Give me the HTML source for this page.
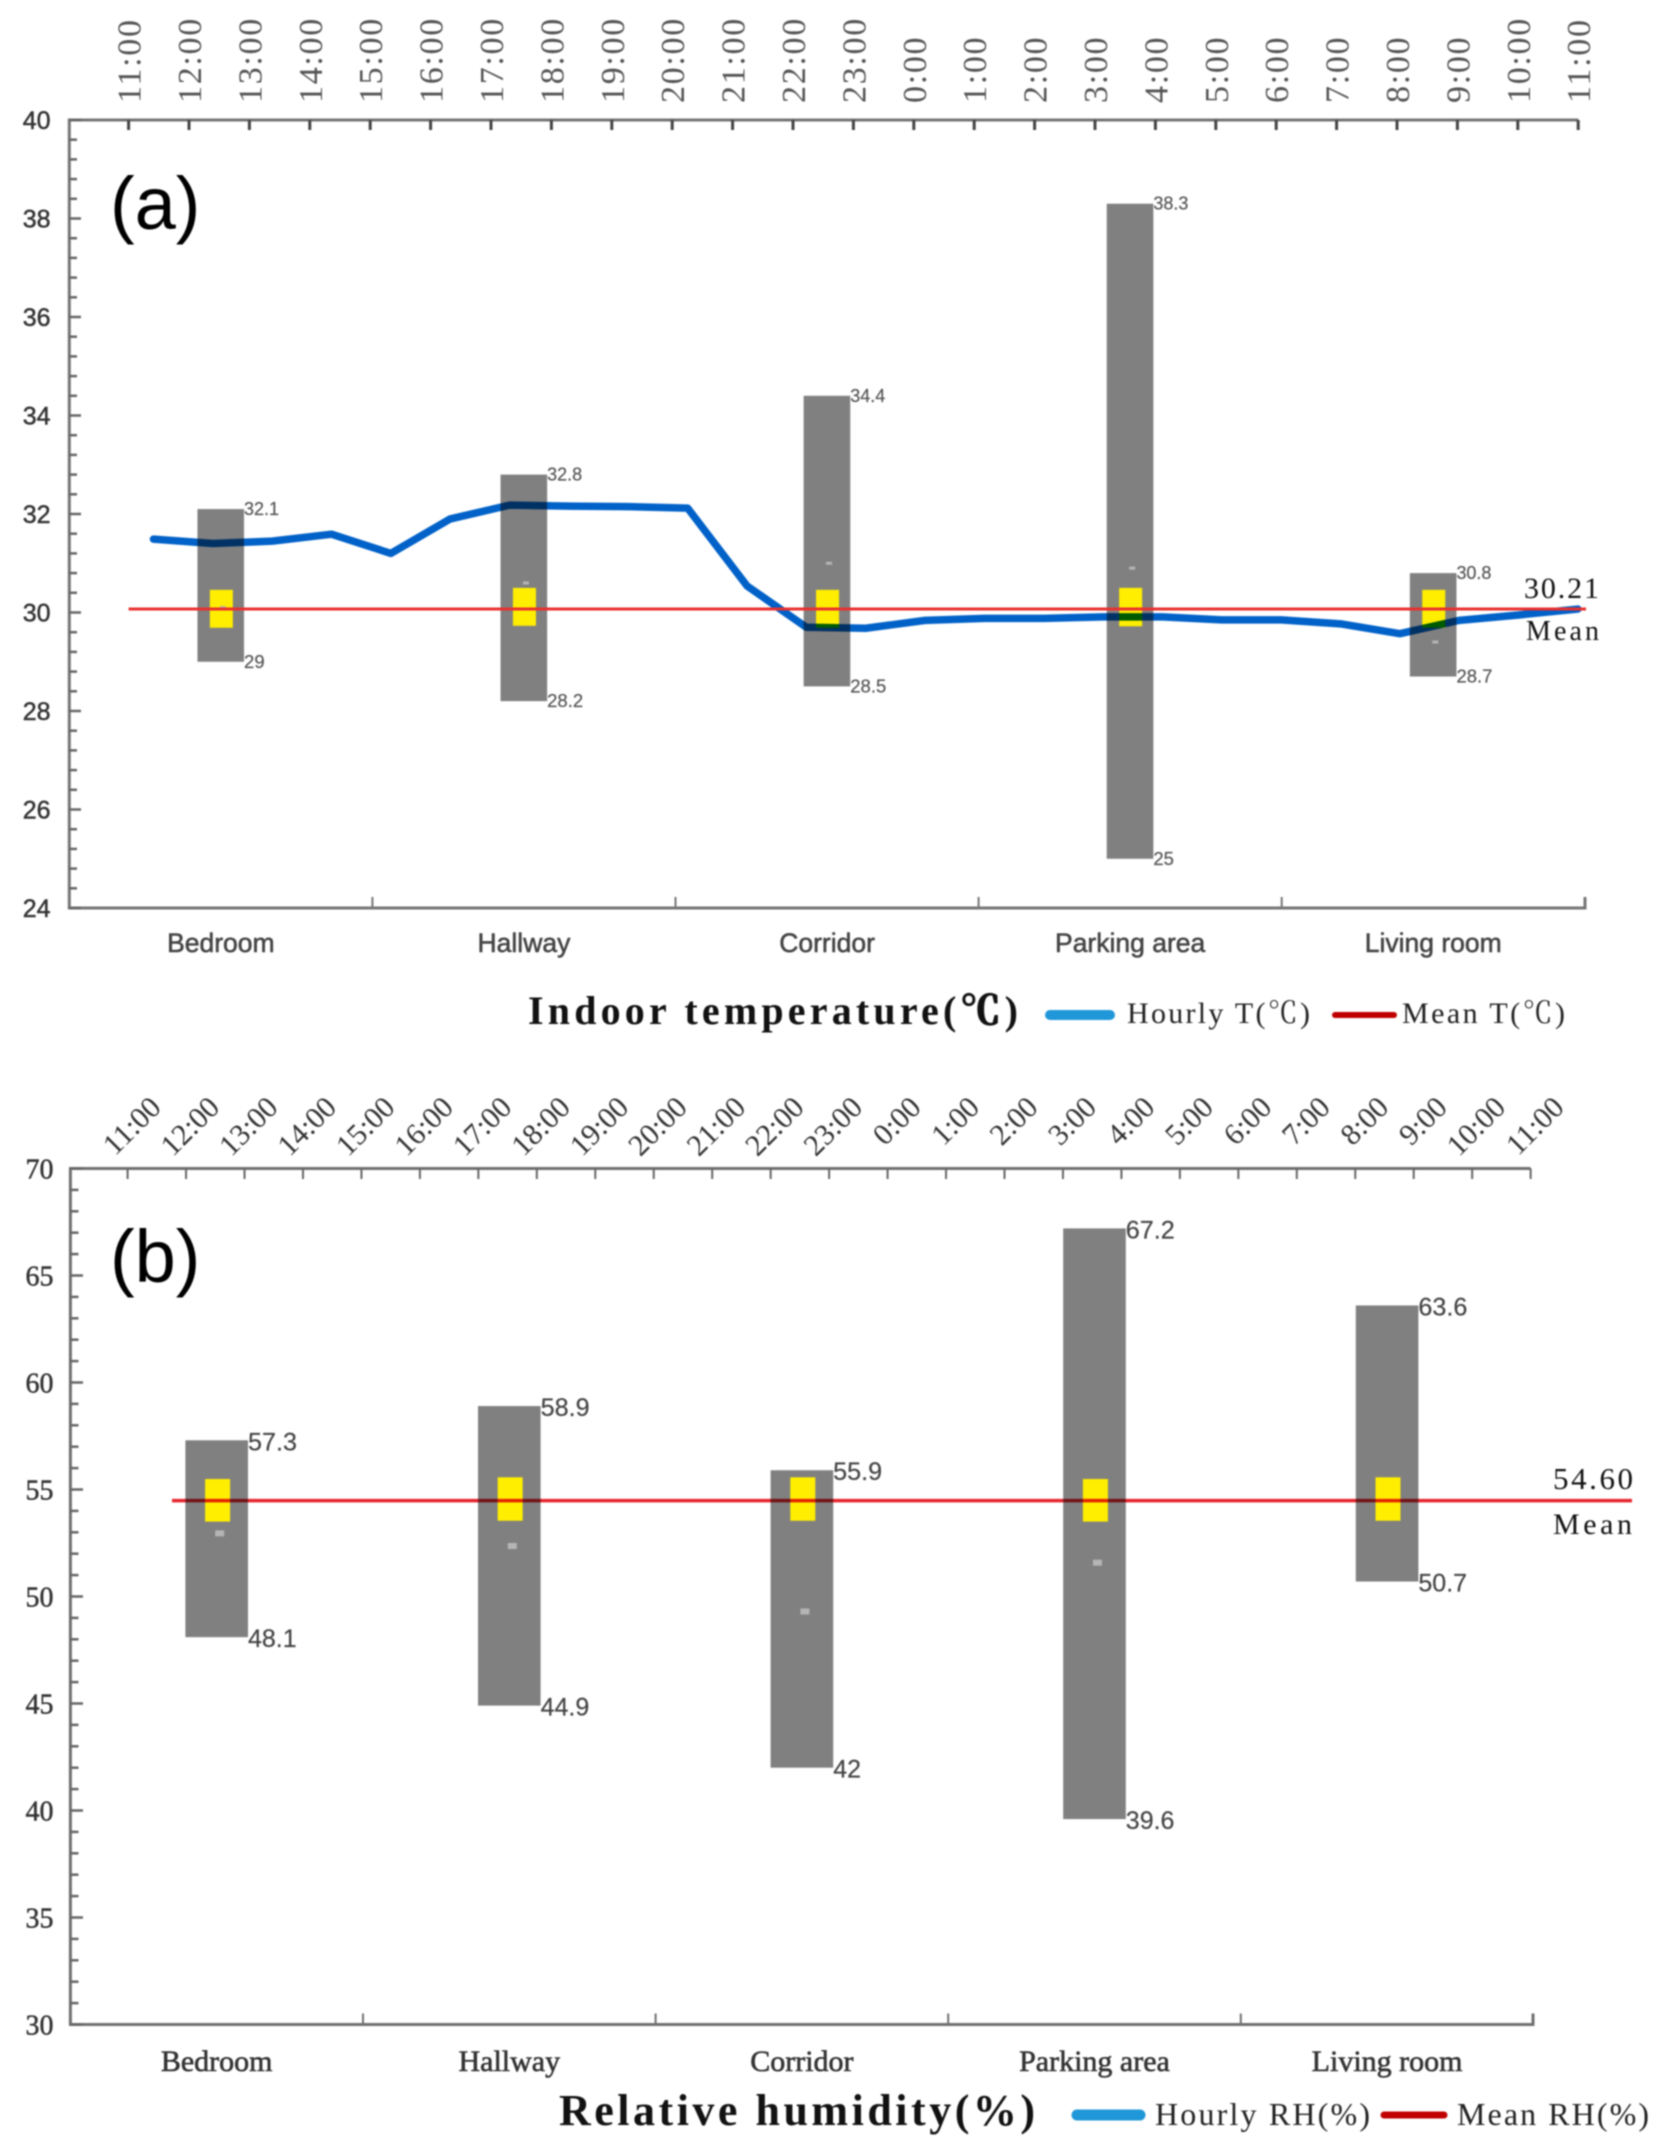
<!DOCTYPE html>
<html lang="en">
<head>
<meta charset="utf-8">
<title>Indoor temperature and relative humidity by location</title>
<style>
html,body{margin:0;padding:0;background:#fff;}
body{width:1665px;height:2152px;overflow:hidden;}
svg{display:block;filter:blur(0.7px);}
.sans{font-family:"Liberation Sans","Noto Sans CJK SC",sans-serif;}
.serif{font-family:"Liberation Serif","Noto Serif CJK SC",serif;}
</style>
</head>
<body>
<svg id="chart" xmlns="http://www.w3.org/2000/svg" width="1665" height="2152" viewBox="0 0 1665 2152"></svg>
<script>
const hours = ["11:00","12:00","13:00","14:00","15:00","16:00","17:00","18:00","19:00","20:00","21:00","22:00","23:00","0:00","1:00","2:00","3:00","4:00","5:00","6:00","7:00","8:00","9:00","10:00","11:00"];
const categories = ["Bedroom","Hallway","Corridor","Parking area","Living room"];

const tempTicks = [24,26,28,30,32,34,36,38,40];
const tempHigh = [32.1,32.8,34.4,38.3,30.8];
const tempLow = [29,28.2,28.5,25,28.7];
const tempBoxHigh = [30.46,30.5,30.46,30.5,30.46];
const tempBoxLow = [29.69,29.73,29.69,29.72,29.69];
const tempMarker = [30.1,30.6,31.0,30.9,29.4];
const tempHourly = [31.49,31.40,31.45,31.59,31.2,31.9,32.18,32.16,32.15,32.12,30.54,29.70,29.68,29.84,29.88,29.88,29.91,29.91,29.85,29.85,29.77,29.57,29.84,29.95,30.07];
const tempMean = 30.07;
const tempMeanLabel = "30.21";

const humTicks = [30,35,40,45,50,55,60,65,70];
const humHigh = [57.3,58.9,55.9,67.2,63.6];
const humLow = [48.1,44.9,42,39.6,50.7];
const humBoxHigh = [55.49,55.57,55.57,55.49,55.57];
const humBoxLow = [53.5,53.54,53.54,53.5,53.54];
const humMarker = [52.95,52.36,49.3,51.58,null];
const humMean = 54.48;
const humMeanLabel = "54.60";

const svg = document.getElementById('chart');
const NS = 'http://www.w3.org/2000/svg';
function mk(tag, attrs, parent){
  const el = document.createElementNS(NS, tag);
  for (const k in attrs) el.setAttribute(k, attrs[k]);
  (parent || svg).appendChild(el);
  return el;
}
function label(str, attrs, parent){
  const el = mk('text', attrs, parent);
  el.textContent = str;
  return el;
}

/* ---------- panel (a) axis functions ---------- */
const yA = v => 120 + (40 - v) * 49.25;
const bandA = i => 69.3 + 303.1 * (i + 0.5);
const topA = i => 128.6 + 60.4 * i;
const lineA = i => 153.5 + 59.35 * i;

/* ---------- panel (b) axis functions ---------- */
const yB = v => 1168.5 + (70 - v) * 21.4;
const bandB = i => 70.4 + 292.6 * (i + 0.5);
const topB = i => 127.6 + 58.46 * i;

/* ---------- panel (a) ---------- */
const gA = mk('g', {});



tempHigh.forEach((h, i) => {
  const cx = bandA(i);
  const bar = mk('rect', {x: cx - 23.4, y: yA(h), width: 46.6, height: yA(tempLow[i]) - yA(h), fill: '#808080'}, gA);
  
  
  const box = mk('rect', {x: cx - 11, y: yA(tempBoxHigh[i]), width: 23, height: yA(tempBoxLow[i]) - yA(tempBoxHigh[i]), fill: '#ffee00'}, gA);
  
  
  const mark = mk('rect', {x: cx - 1, y: yA(tempMarker[i]) - 1.5, width: 6, height: 3, fill: '#b5b5b5'}, gA);
  
  
  const hi = label(String(h), {x: cx + 23.2, y: yA(h) + 6, class: 'sans', 'font-size': 18.5, fill: '#555', stroke: '#555', 'stroke-width': 0.2, textLength: 35, lengthAdjust: 'spacingAndGlyphs'}, gA);
  
  
  const lo = label(String(tempLow[i]), {x: cx + 23.2, y: yA(tempLow[i]) + 6, class: 'sans', 'font-size': 18.5, fill: '#555', stroke: '#555', 'stroke-width': 0.2}, gA);
  
  
  const cat = label(categories[i], {x: cx, y: 952, class: 'sans', 'font-size': 26.5, 'text-anchor': 'middle', fill: '#444', stroke: '#444', 'stroke-width': 0.55}, gA);
  
  
});

const hourlyA = mk('polyline', {points: tempHourly.map((v, i) => lineA(i) + ',' + yA(v)).join(' '), fill: 'none', stroke: '#0061c8', 'stroke-width': 7.5, 'stroke-linejoin': 'round', 'stroke-linecap': 'round', style: 'mix-blend-mode:multiply'}, gA);



const meanA = mk('line', {x1: 128.6, x2: 1586, y1: yA(tempMean), y2: yA(tempMean), stroke: '#e8302f', 'stroke-width': 3}, gA);



const axA = mk('path', {d: 'M69.3 120 H' + topA(24) + ' M69.3 118.5 V' + yA(24) + ' H1585 V' + (yA(24) - 11), fill: 'none', stroke: '#757575', 'stroke-width': 3}, gA);



hours.forEach((h, i) => {
  const tk = mk('line', {x1: topA(i), x2: topA(i), y1: 120, y2: 130, stroke: '#444', 'stroke-width': 3}, gA);
  
  
  const px = topA(i) + 12;
  const t = label(h, {x: px, y: 103, transform: 'rotate(-90 ' + px + ' 103)', class: 'serif', 'font-size': 34, 'letter-spacing': 1.7, fill: '#555'}, gA);
  
  
});
for (let v = 24; v < 40; v += 0.4) {
  const major = Math.abs(v / 2 - Math.round(v / 2)) < 0.001;
  if (major) continue;
  const m = mk('line', {x1: 69.3, x2: 77, y1: yA(v), y2: yA(v), stroke: '#666', 'stroke-width': 2.5}, gA);
  
  
}
tempTicks.forEach(v => {
  const m = mk('line', {x1: 69.3, x2: 81, y1: yA(v), y2: yA(v), stroke: '#666', 'stroke-width': 2.5}, gA);
  
  
  const t = label(String(v), {x: 50.5, y: yA(v) + 9, class: 'sans', 'font-size': 25, 'text-anchor': 'end', fill: '#333', stroke: '#333', 'stroke-width': 0.5}, gA);
  
  
});
for (let i = 1; i < categories.length; i++) {
  const x = 69.3 + 303.1 * i;
  const s = mk('line', {x1: x, x2: x, y1: yA(24), y2: yA(24) - 11, stroke: '#757575', 'stroke-width': 2}, gA);
  
  
}

const panelA = label('(a)', {x: 110, y: 229, class: 'sans', 'font-size': 74, fill: '#000'}, gA);


const mvA = label(tempMeanLabel, {x: 1524, y: 598, class: 'serif', 'font-size': 30, fill: '#111', textLength: 75}, gA);


const mlA = label('Mean', {x: 1526, y: 640, class: 'serif', 'font-size': 28, fill: '#111', textLength: 73}, gA);



const titleA = mk('text', {x: 528, y: 1024, class: 'serif', 'font-size': 40, 'font-weight': 700, fill: '#111', textLength: 490}, gA);


const titleAText = mk('tspan', {}, titleA);
titleAText.textContent = 'Indoor temperature(';
const titleAUnit = mk('tspan', {stroke: '#111', 'stroke-width': 1.3}, titleA);
titleAUnit.textContent = '℃';
const titleAClose = mk('tspan', {}, titleA);
titleAClose.textContent = ')';

const lgBlueA = mk('line', {x1: 1050, x2: 1110, y1: 1015, y2: 1015, stroke: '#1f97d8', 'stroke-width': 10, 'stroke-linecap': 'round'}, gA);


const lgTxtA = label('Hourly T(℃)', {x: 1127, y: 1023, class: 'serif', 'font-size': 30, fill: '#222', textLength: 183}, gA);


const lgRedA = mk('line', {x1: 1335, x2: 1394, y1: 1015, y2: 1015, stroke: '#c00000', 'stroke-width': 6, 'stroke-linecap': 'round'}, gA);


const lgTxtA2 = label('Mean T(℃)', {x: 1402, y: 1023, class: 'serif', 'font-size': 30, fill: '#222', textLength: 163}, gA);



/* ---------- panel (b) ---------- */
const gB = mk('g', {});



humHigh.forEach((h, i) => {
  const cx = bandB(i);
  const bar = mk('rect', {x: cx - 31.3, y: yB(h), width: 62.6, height: yB(humLow[i]) - yB(h), fill: '#808080'}, gB);
  
  
  const box = mk('rect', {x: cx - 11.6, y: yB(humBoxHigh[i]), width: 25, height: yB(humBoxLow[i]) - yB(humBoxHigh[i]), fill: '#ffee00'}, gB);
  
  
  if (humMarker[i] !== null) {
    const mark = mk('rect', {x: cx - 1.5, y: yB(humMarker[i]) - 3, width: 9, height: 6, fill: '#b5b5b5'}, gB);
    
    
  }
  const hi = label(String(h), {x: cx + 31.3, y: yB(h) + 10, class: 'sans', 'font-size': 25, fill: '#444', stroke: '#444', 'stroke-width': 0.2, textLength: 49, lengthAdjust: 'spacingAndGlyphs'}, gB);
  
  
  const lo = label(String(humLow[i]), {x: cx + 31.3, y: yB(humLow[i]) + 10, class: 'sans', 'font-size': 25, fill: '#444', stroke: '#444', 'stroke-width': 0.2}, gB);
  
  
  const cat = label(categories[i], {x: cx, y: 2071, class: 'serif', 'font-size': 30, 'text-anchor': 'middle', fill: '#333', stroke: '#333', 'stroke-width': 0.6}, gB);
  
  
});

const meanB = mk('line', {x1: 172, x2: 1632, y1: yB(humMean), y2: yB(humMean), stroke: '#e5262e', 'stroke-width': 3.5, style: 'mix-blend-mode:multiply'}, gB);



const axB = mk('path', {d: 'M70.4 1168.5 H' + topB(24) + ' M70.4 1167 V' + yB(30) + ' H1533 V' + (yB(30) - 11), fill: 'none', stroke: '#707070', 'stroke-width': 3}, gB);



hours.forEach((h, i) => {
  const tk = mk('line', {x1: topB(i), x2: topB(i), y1: 1168.5, y2: 1179, stroke: '#666', 'stroke-width': 2}, gB);
  
  
  const px = topB(i) + 35;
  const t = label(h, {x: px, y: 1109, transform: 'rotate(-45 ' + px + ' 1109)', class: 'serif', 'font-size': 30, 'text-anchor': 'end', fill: '#333'}, gB);
  
  
});
for (let v = 30; v < 70; v += 1) {
  if (v % 5 === 0) continue;
  const m = mk('line', {x1: 70.4, x2: 78.5, y1: yB(v), y2: yB(v), stroke: '#666', 'stroke-width': 2.5}, gB);
  
  
}
humTicks.forEach(v => {
  const m = mk('line', {x1: 70.4, x2: 83, y1: yB(v), y2: yB(v), stroke: '#666', 'stroke-width': 2.5}, gB);
  
  
  const t = label(String(v), {x: 53.5, y: yB(v) + 10, class: 'serif', 'font-size': 28, 'text-anchor': 'end', fill: '#333', stroke: '#333', 'stroke-width': 0.45}, gB);
  
  
});
for (let i = 1; i < categories.length; i++) {
  const x = 70.4 + 292.6 * i;
  const s = mk('line', {x1: x, x2: x, y1: yB(30), y2: yB(30) - 11, stroke: '#707070', 'stroke-width': 2}, gB);
  
  
}

const panelB = label('(b)', {x: 110, y: 1282, class: 'sans', 'font-size': 74, fill: '#000'}, gB);


const mvB = label(humMeanLabel, {x: 1553, y: 1489, class: 'serif', 'font-size': 31, fill: '#111', textLength: 80}, gB);


const mlB = label('Mean', {x: 1553, y: 1534, class: 'serif', 'font-size': 30, fill: '#111', textLength: 79}, gB);


const titleB = label('Relative humidity(%)', {x: 559, y: 2125, class: 'serif', 'font-size': 44, 'font-weight': 700, fill: '#111', textLength: 476}, gB);


const lgBlueB = mk('line', {x1: 1077, x2: 1140, y1: 2115, y2: 2115, stroke: '#1f97d8', 'stroke-width': 11, 'stroke-linecap': 'round'}, gB);


const lgTxtB = label('Hourly RH(%)', {x: 1155, y: 2125, class: 'serif', 'font-size': 32, fill: '#222', textLength: 215}, gB);


const lgRedB = mk('line', {x1: 1384, x2: 1444, y1: 2115, y2: 2115, stroke: '#c00000', 'stroke-width': 7, 'stroke-linecap': 'round'}, gB);


const lgTxtB2 = label('Mean RH(%)', {x: 1457, y: 2125, class: 'serif', 'font-size': 32, fill: '#222', textLength: 192}, gB);


</script>
</body>
</html>
